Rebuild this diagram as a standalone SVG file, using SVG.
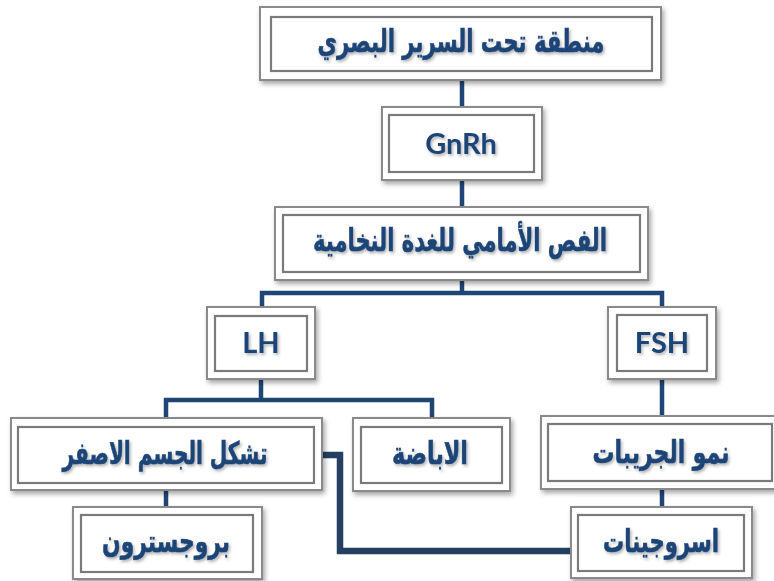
<svg xmlns="http://www.w3.org/2000/svg" width="774" height="581" viewBox="0 0 774 581">
<defs>
<filter id="sh" x="-10%" y="-20%" width="125%" height="150%">
<feDropShadow dx="2" dy="3" stdDeviation="2.5" flood-color="#000" flood-opacity="0.35"/>
</filter>
<filter id="tsh" x="-10%" y="-30%" width="125%" height="170%">
<feDropShadow dx="1.5" dy="2" stdDeviation="1.5" flood-color="#000" flood-opacity="0.3"/>
</filter>
<style>
.outer{fill:#fff;stroke:#8a8a8a;stroke-width:2;filter:url(#sh)}
.inner{fill:#fff;stroke:#7a7a7a;stroke-width:2.2}
.ar{font-family:"DejaVu Sans",sans-serif;font-weight:bold;font-size:31px;fill:#1f4577;stroke:#1f4577;stroke-width:0.6;text-anchor:middle;filter:url(#tsh)}
.en{font-family:Lato,"Open Sans",sans-serif;font-weight:bold;font-size:29px;fill:#1f4577;text-anchor:middle;filter:url(#tsh)}
.ln{fill:none;stroke:#1f4577;stroke-width:4.5}
.ln2{fill:none;stroke:#243f60;stroke-width:6.5}
</style>
</defs>
<rect width="774" height="581" fill="#fff"/>
<g id="connectors">
<path class="ln" d="M462 80 V107"/>
<path class="ln" d="M462 180 V207"/>
<path class="ln" d="M462 280 V293"/>
<path class="ln" d="M262 308 V293 H662 V308"/>
<path class="ln" d="M261 379 V400"/>
<path class="ln" d="M166 419 V400 H432 V419"/>
<path class="ln" d="M662 379 V417"/>
<path class="ln" d="M166 490 V508"/>
<path class="ln" d="M662 489 V508"/>
<path class="ln2" d="M322 455 H340 V551 H572"/>
</g>
<g id="hypothalamus">
<rect class="outer" x="260" y="7" width="401" height="73"/>
<rect class="inner" x="271" y="17" width="381" height="54"/>
<text class="ar" x="461" y="52" textLength="287" lengthAdjust="spacingAndGlyphs">منطقة تحت السرير البصري</text>
</g>
<g id="gnrh">
<rect class="outer" x="382" y="107" width="160" height="73"/>
<rect class="inner" x="389" y="115" width="145" height="57"/>
<text class="en" x="461" y="154">GnRh</text>
</g>
<g id="pituitary">
<rect class="outer" x="275" y="207" width="373" height="73"/>
<rect class="inner" x="283" y="215" width="357" height="57"/>
<text class="ar" x="460" y="251" textLength="294" lengthAdjust="spacingAndGlyphs">الفص الأمامي للغدة النخامية</text>
</g>
<g id="lh">
<rect class="outer" x="207" y="307" width="108" height="72"/>
<rect class="inner" x="215" y="316" width="92" height="55"/>
<text class="en" x="261" y="353">LH</text>
</g>
<g id="fsh">
<rect class="outer" x="608" y="307" width="108" height="72"/>
<rect class="inner" x="617" y="315" width="90" height="56"/>
<text class="en" x="662" y="353">FSH</text>
</g>
<g id="corpus-luteum">
<rect class="outer" x="11" y="418" width="311" height="72"/>
<rect class="inner" x="18" y="427" width="296" height="56"/>
<text class="ar" x="165" y="464" textLength="205" lengthAdjust="spacingAndGlyphs">تشكل الجسم الاصفر</text>
</g>
<g id="ovulation">
<rect class="outer" x="353" y="418" width="157" height="73"/>
<rect class="inner" x="361" y="427" width="141" height="56"/>
<text class="ar" x="430" y="464" textLength="76" lengthAdjust="spacingAndGlyphs">الاباضة</text>
</g>
<g id="follicle">
<rect class="outer" x="541" y="416" width="245" height="73"/>
<rect class="inner" x="548" y="424" width="224" height="57"/>
<text class="ar" x="661" y="463" textLength="137" lengthAdjust="spacingAndGlyphs">نمو الجريبات</text>
</g>
<g id="progesterone">
<rect class="outer" x="73" y="507" width="189" height="72"/>
<rect class="inner" x="81" y="515" width="172" height="57"/>
<text class="ar" x="166" y="552" textLength="128" lengthAdjust="spacingAndGlyphs">بروجسترون</text>
</g>
<g id="estrogen">
<rect class="outer" x="571" y="507" width="181" height="71"/>
<rect class="inner" x="578" y="515" width="166" height="56"/>
<text class="ar" x="661" y="552" textLength="116" lengthAdjust="spacingAndGlyphs">اسروجينات</text>
</g>
</svg>
